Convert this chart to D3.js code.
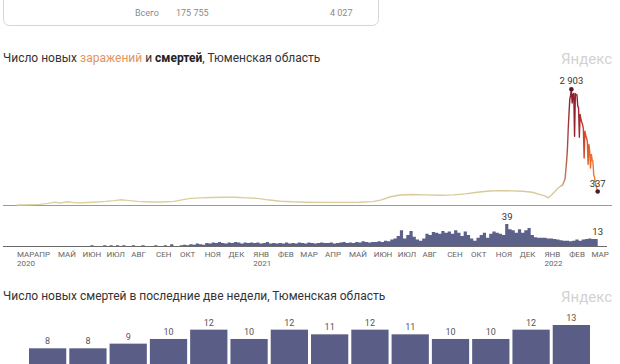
<!DOCTYPE html>
<html>
<head>
<meta charset="utf-8">
<script src="https://cdn.jsdelivr.net/npm/d3@7"></script>
<style>
  body { margin: 0; background: #fff; }
  svg { display: block; font-family: Roboto, "Noto Sans", sans-serif; }
</style>
</head>
<body>
<div id="chart"></div>
<script>
// summary row (card is cut off at the top of the picture)
const totalLabel = "Всего";
const totalCases = 175755;
const totalDeaths = 4027;

const monthNames = ["ЯНВ","ФЕВ","МАР","АПР","МАЙ","ИЮН","ИЮЛ","АВГ","СЕН","ОКТ","НОЯ","ДЕК"];

// new cases per day
const caseDates = [
  "2020-03-12","2020-03-26","2020-04-09","2020-04-20","2020-04-28","2020-05-06","2020-05-14","2020-05-22",
  "2020-06-01","2020-06-15","2020-07-01","2020-07-12","2020-07-20","2020-07-28","2020-08-10","2020-08-25",
  "2020-09-10","2020-09-25","2020-10-05","2020-10-15","2020-10-28","2020-11-10","2020-11-25","2020-12-10",
  "2020-12-25","2021-01-08","2021-01-20","2021-02-05","2021-02-20","2021-03-10","2021-04-01","2021-04-25",
  "2021-05-15","2021-06-01","2021-06-12","2021-06-22","2021-07-05","2021-07-20","2021-08-05","2021-08-25",
  "2021-09-10","2021-09-25","2021-10-10","2021-10-25","2021-11-08","2021-11-22","2021-12-06","2021-12-18",
  "2021-12-28","2022-01-03","2022-01-07","2022-01-11","2022-01-15","2022-01-19","2022-01-23","2022-01-25",
  "2022-01-28","2022-01-30","2022-01-31","2022-02-01","2022-02-02","2022-02-03","2022-02-04","2022-02-05",
  "2022-02-06","2022-02-07","2022-02-08","2022-02-09","2022-02-10","2022-02-11","2022-02-12","2022-02-13",
  "2022-02-14","2022-02-15","2022-02-16","2022-02-17","2022-02-18","2022-02-19","2022-02-20","2022-02-21",
  "2022-02-22","2022-02-23","2022-02-24","2022-02-25","2022-02-26","2022-02-27","2022-02-28","2022-03-01",
  "2022-03-02","2022-03-03","2022-03-04","2022-03-05","2022-03-06","2022-03-07","2022-03-08","2022-03-09",
  "2022-03-10"
];
const caseValues = [
  0, 5, 15, 40, 70, 50, 80, 60,
  55, 70, 90, 110, 130, 115, 90, 75,
  75, 90, 130, 165, 180, 190, 195, 195,
  180, 165, 130, 95, 80, 70, 65, 65,
  70, 85, 130, 200, 250, 265, 255, 245,
  255, 280, 320, 350, 360, 355, 345, 320,
  260, 230, 180, 250, 330, 420, 480, 500,
  650, 1100, 1400, 1900, 2300, 2650, 2750, 2903,
  2560, 2770, 2800, 1725, 2790, 2770, 2760, 2480,
  2440, 1700, 2270, 2150, 2080, 2020, 1930, 1180,
  1850, 1750, 1680, 1600, 1020, 1520, 1350, 930,
  1270, 1150, 1090, 760, 700, 560, 470, 400,
  337
];

// new deaths, one value per 4 days from deathStart
const deathStart = "2020-03-12";
const deathStepDays = 4;
const deathValues = [
  0,0,0,0,0,0,0,0,0,0,0,0,0,
  0,1,0,1,0,1,1,0,
  1,1,2,1,1,1,2,
  1,2,1,2,1,2,1,1,
  2,1,1,2,1,1,1,2,
  1,1,2,1,4,1,1,
  2,3,2,4,3,5,4,3,
  6,5,7,6,8,6,5,
  7,6,8,7,5,7,6,7,
  6,7,5,6,8,5,6,5,
  6,5,7,5,6,5,7,
  6,5,7,6,5,6,7,6,
  6,7,5,6,7,8,6,
  7,6,8,7,9,8,7,8,
  8,9,8,10,9,12,14,
  18,28,14,20,27,17,12,10,
  14,22,20,25,24,22,27,24,
  26,22,28,24,18,26,20,
  14,10,15,20,24,15,22,26,
  24,22,20,39,30,28,24,
  30,24,28,32,20,16,15,15,
  15,14,14,13,12,11,10,10,
  9,10,12,10,12,13,14,
  13,13,13
];

// deaths over the last two weeks
const recentDeaths = [8, 8, 9, 10, 12, 10, 12, 11, 12, 11, 10, 10, 12, 13];

const width = 620, height = 364;
const parse = d3.timeParse("%Y-%m-%d");
const fmt = v => d3.format(",")(v).replace(/,/g, " ");

const cases = caseDates.map((d, i) => ({date: parse(d), value: caseValues[i]}));
const d0 = parse(deathStart);
const deaths = deathValues.map((v, i) => ({date: d3.timeDay.offset(d0, i * deathStepDays), value: v}));

const svg = d3.select("#chart").append("svg")
    .attr("width", width).attr("height", height);

// cut-off summary card
svg.append("rect")
    .attr("x", 3.5).attr("y", -30).attr("width", 375).attr("height", 55.5)
    .attr("rx", 6).attr("fill", "none").attr("stroke", "#d6d6d6");
const card = svg.append("g").attr("font-size", 9).attr("fill", "#8a8a8a");
card.append("text").attr("x", 135).attr("y", 16).text(totalLabel);
card.append("text").attr("x", 176).attr("y", 16).text(fmt(totalCases));
card.append("text").attr("x", 330).attr("y", 16).text(fmt(totalDeaths));

// titles
const t1 = svg.append("text").attr("x", 3).attr("y", 62).attr("font-size", 12).attr("fill", "#333");
t1.append("tspan").text("Число новых ");
t1.append("tspan").attr("fill", "#e4935a").text("заражений");
t1.append("tspan").text(" и ");
t1.append("tspan").attr("font-weight", "bold").attr("fill", "#222").text("смертей");
t1.append("tspan").text(", Тюменская область");

svg.append("text").attr("x", 3).attr("y", 300).attr("font-size", 12).attr("fill", "#333")
    .text("Число новых смертей в последние две недели, Тюменская область");

svg.selectAll("text.brand").data([64, 302]).enter().append("text")
    .attr("class", "brand")
    .attr("x", 612).attr("y", d => d).attr("text-anchor", "end")
    .attr("font-size", 15).attr("fill", "#d2d2d2").text("Яндекс");

// scales
const x = d3.scaleTime()
    .domain([cases[0].date, cases[cases.length - 1].date])
    .range([17, 597.7]);
const yCases = d3.scaleLinear().domain([0, d3.max(caseValues)]).range([205, 89.3]);
const yDeaths = d3.scaleLinear().domain([0, d3.max(deathValues)]).range([246.5, 224]);

// cases line colour
const grad = svg.append("defs").append("linearGradient")
    .attr("id", "caseGrad").attr("gradientUnits", "userSpaceOnUse")
    .attr("x1", 0).attr("x2", width).attr("y1", 0).attr("y2", 0);
[[0, "#dcd3a3"], [560, "#d8c79a"], [566, "#b96a4e"], [570, "#8a1c2c"], [578, "#9b2230"],
 [584, "#cf452c"], [590, "#e96a2c"], [598, "#ee8a3a"], [620, "#ee8a3a"]]
  .forEach(s => grad.append("stop").attr("offset", s[0] / width).attr("stop-color", s[1]));

svg.append("line").attr("x1", 3).attr("x2", 612).attr("y1", 205.5).attr("y2", 205.5)
    .attr("stroke", "#9a9a9a");

svg.append("path").datum(cases)
    .attr("fill", "none").attr("stroke", "url(#caseGrad)").attr("stroke-width", 1.4)
    .attr("stroke-linejoin", "round")
    .attr("d", d3.line().x(d => x(d.date)).y(d => yCases(d.value)));

const peak = cases.reduce((a, b) => b.value > a.value ? b : a);
const lastCase = cases[cases.length - 1];
svg.selectAll("circle.cdot").data([peak, lastCase]).enter().append("circle")
    .attr("class", "cdot")
    .attr("cx", d => x(d.date)).attr("cy", d => yCases(d.value)).attr("r", 2.3)
    .attr("fill", (d, i) => i ? "#4a1c1c" : "#5a1622");
svg.selectAll("text.clab").data([peak, lastCase]).enter().append("text")
    .attr("class", "clab")
    .attr("x", d => x(d.date)).attr("y", d => yCases(d.value) - 5)
    .attr("text-anchor", "middle").attr("font-size", 9.5).attr("fill", "#333")
    .text(d => fmt(d.value));

// deaths area
svg.append("path").datum(deaths)
    .attr("fill", "#5c6189")
    .attr("d", d3.area().curve(d3.curveStepAfter)
      .x(d => x(d.date)).y0(yDeaths(0)).y1(d => yDeaths(d.value)));

svg.append("line").attr("x1", 3).attr("x2", 607).attr("y1", 246.5).attr("y2", 246.5)
    .attr("stroke", "#6a6a6a");

const maxDeath = deaths.reduce((a, b) => b.value > a.value ? b : a);
const lastDeath = deaths[deaths.length - 1];
svg.selectAll("text.dlab").data([maxDeath, lastDeath]).enter().append("text")
    .attr("class", "dlab")
    .attr("x", (d, i) => x(d.date) + (i ? 0 : 2)).attr("y", d => yDeaths(d.value) - 4)
    .attr("text-anchor", "middle").attr("font-size", 9.5).attr("fill", "#333")
    .text(d => d.value);

// month axis
const ticks = [cases[0].date].concat(d3.timeMonth.range(d3.timeMonth.ceil(d3.timeDay.offset(cases[0].date, 1)), lastCase.date));
const axis = svg.append("g").attr("font-size", 8).attr("fill", "#666");
axis.selectAll("text.m").data(ticks).enter().append("text")
    .attr("class", "m")
    .attr("x", (d, i) => x(d) + (i ? 1 : 0)).attr("y", 257)
    .text(d => monthNames[d.getMonth()]);
axis.selectAll("text.yr").data(ticks.filter((d, i) => i === 0 || d.getMonth() === 0)).enter().append("text")
    .attr("class", "yr")
    .attr("x", (d, i) => x(d) + (i ? 1 : 0)).attr("y", 266)
    .text(d => d.getFullYear());

// two-week bars
const xb = d3.scaleBand().domain(d3.range(recentDeaths.length)).range([29, 590]).paddingInner(0.075);
const yb = d3.scaleLinear().domain([0, 13]).range([385.6, 325]);
svg.selectAll("rect.bar").data(recentDeaths).enter().append("rect")
    .attr("class", "bar")
    .attr("x", (d, i) => xb(i)).attr("width", xb.bandwidth())
    .attr("y", d => yb(d)).attr("height", d => yb(0) - yb(d))
    .attr("fill", "#5a5e86");
svg.selectAll("text.blab").data(recentDeaths).enter().append("text")
    .attr("class", "blab")
    .attr("x", (d, i) => xb(i) + xb.bandwidth() / 2).attr("y", d => yb(d) - 4)
    .attr("text-anchor", "middle").attr("font-size", 9).attr("fill", "#555")
    .text(d => d);
</script>
</body>
</html>
